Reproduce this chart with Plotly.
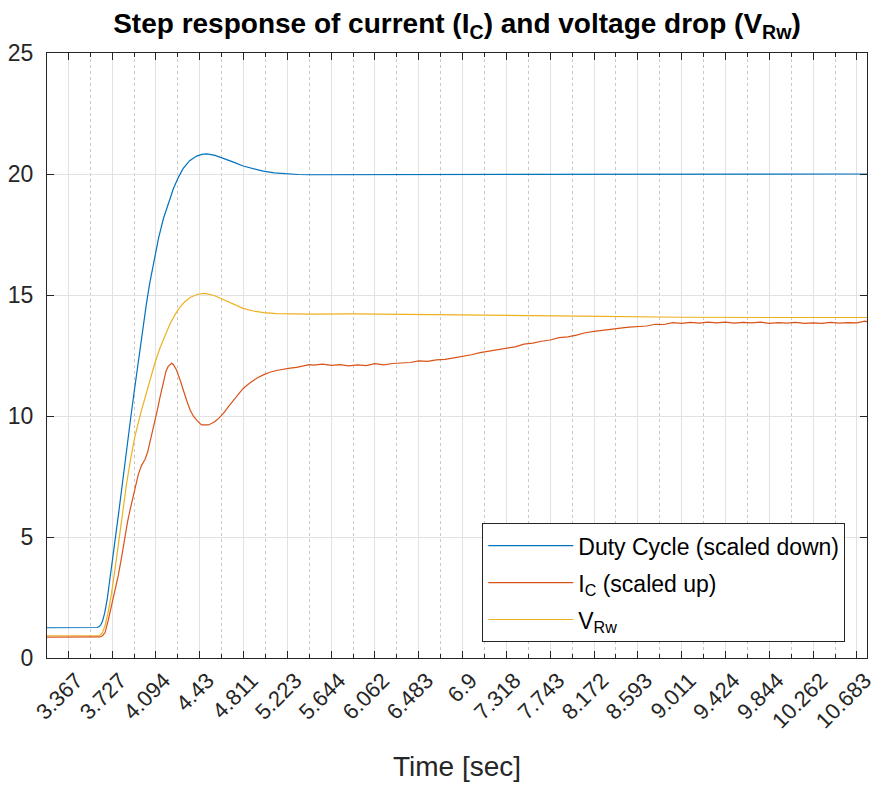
import plotly.graph_objects as go

# ---------------- data ----------------
# x axis positions are in "tick index" units; tick k carries the time label below
tick_pos = list(range(19))
tick_labels = ["3.367", "3.727", "4.094", "4.43", "4.811", "5.223", "5.644", "6.062",
               "6.483", "6.9", "7.318", "7.743", "8.172", "8.593", "9.011", "9.424",
               "9.844", "10.262", "10.683"]
minor_pos = [k + 0.5 for k in range(-1, 19)]
y_ticks = [0, 5, 10, 15, 20, 25]

duty_x = [-0.49, 0.55, 0.62, 0.66, 0.70, 0.74, 0.78, 0.83, 0.89, 0.95, 1.01, 1.07, 1.15, 1.22,
          1.30, 1.37, 1.43, 1.50, 1.57, 1.64, 1.71, 1.78, 1.86, 1.94, 2.06, 2.17, 2.29, 2.40,
          2.51, 2.62, 2.77, 2.93, 3.05, 3.16, 3.35, 3.54, 3.77, 3.99, 4.22, 4.45, 4.70, 4.98,
          5.25, 5.52, 6.00, 6.39, 6.50, 8.00, 10.0, 12.0, 14.0, 16.0, 18.23]
duty_y = [1.25, 1.25, 1.25, 1.26, 1.29, 1.37, 1.52, 1.85, 2.45, 3.20, 4.00, 4.90, 6.00, 7.05,
          8.15, 9.15, 10.00, 10.95, 11.90, 12.85, 13.75, 14.60, 15.50, 16.30, 17.35, 18.15, 18.85,
          19.40, 19.85, 20.22, 20.55, 20.74, 20.81, 20.83, 20.77, 20.65, 20.49, 20.33, 20.21, 20.12,
          20.05, 20.01, 19.98, 19.97, 19.97, 19.98, 20.00, 20.00, 20.00, 20.00, 20.00, 20.00, 20.00]

ic_x = [-0.49, 0.62, 0.72, 0.78, 0.84, 0.91, 0.99, 1.07, 1.14, 1.22, 1.29, 1.35, 1.41, 1.47,
        1.52, 1.56, 1.60, 1.67, 1.75, 1.81, 1.86, 1.92, 1.98, 2.04, 2.09, 2.17, 2.23, 2.28,
        2.33, 2.36, 2.40, 2.47, 2.55, 2.62, 2.70, 2.78, 2.86, 2.93, 3.00, 3.04, 3.20, 3.27,
        3.35, 3.45, 3.54, 3.66, 3.77, 3.88, 3.99, 4.15, 4.30, 4.45, 4.60, 4.75, 4.91, 5.06,
        5.21, 5.37, 5.50,
        5.6, 5.8, 6.0, 6.2, 6.4, 6.6, 6.8, 7.0, 7.2, 7.4, 7.6, 7.8, 8.0, 8.2, 8.4, 8.6, 8.8,
        9.0, 9.2, 9.4, 9.6, 9.8, 10.0, 10.2, 10.4, 10.6, 10.8, 11.0, 11.2, 11.4, 11.6, 11.8,
        12.0, 12.2, 12.4, 12.6, 12.8, 13.0, 13.2, 13.4, 13.6, 13.8, 14.0, 14.2, 14.4, 14.6,
        14.8, 15.0, 15.2, 15.4, 15.6, 15.8, 16.0, 16.2, 16.4, 16.6, 16.8, 17.0, 17.2, 17.4,
        17.6, 17.8, 18.0, 18.18, 18.23]
ic_y = [0.86, 0.86, 0.87, 0.92, 1.05, 1.55, 2.20, 2.80, 3.40, 4.20, 5.00, 5.60, 6.12, 6.55,
        6.94, 7.25, 7.60, 7.95, 8.20, 8.50, 8.87, 9.30, 9.83, 10.30, 10.75, 11.45, 11.85, 12.05,
        12.16, 12.18, 12.12, 11.90, 11.50, 11.07, 10.65, 10.25, 9.98, 9.83, 9.68, 9.63, 9.63, 9.69,
        9.77, 9.93, 10.11, 10.40, 10.66, 10.92, 11.14, 11.37, 11.56, 11.70, 11.81, 11.88, 11.94, 11.98,
        12.01, 12.06, 12.12,
        12.10, 12.14, 12.09, 12.12, 12.07, 12.11, 12.08, 12.16, 12.11, 12.17, 12.19, 12.21, 12.28,
        12.26, 12.32, 12.34, 12.40, 12.46, 12.53, 12.62, 12.68, 12.73, 12.81, 12.86, 12.97, 13.01,
        13.09, 13.14, 13.24, 13.27, 13.34, 13.44, 13.50, 13.55, 13.61, 13.63, 13.67, 13.70, 13.72,
        13.79, 13.78, 13.86, 13.83, 13.87, 13.84, 13.88, 13.85, 13.88, 13.84, 13.87, 13.85, 13.88,
        13.83, 13.86, 13.84, 13.87, 13.83, 13.85, 13.83, 13.87, 13.84, 13.86, 13.85, 13.92, 13.90]

vrw_x = [-0.49, 0.62, 0.72, 0.78, 0.84, 0.91, 0.99, 1.08, 1.16, 1.25, 1.33, 1.43, 1.52, 1.65,
         1.77, 1.86, 1.97, 2.09, 2.20, 2.32, 2.44, 2.55, 2.66, 2.78, 2.95, 3.12, 3.33, 3.54, 3.77,
         3.99, 4.22, 4.46, 4.75, 5.06, 5.52, 6.50, 7.50, 8.50, 9.50, 10.50, 11.70, 12.80, 14.00,
         16.00, 18.23]
vrw_y = [0.92, 0.92, 0.93, 1.05, 1.35, 1.90, 2.70, 3.85, 5.00, 6.20, 7.20, 8.30, 9.15, 10.10,
         10.90, 11.50, 12.15, 12.80, 13.30, 13.80, 14.20, 14.50, 14.72, 14.90, 15.03, 15.07, 14.98,
         14.82, 14.63, 14.45, 14.34, 14.27, 14.23, 14.21, 14.21, 14.22, 14.21, 14.19, 14.17, 14.15,
         14.13, 14.10, 14.08, 14.07, 14.07]

series_names = ["Duty Cycle (scaled down)", "I<sub>C</sub> (scaled up)", "V<sub>Rw</sub>"]
series_colors = ["#0072BD", "#D95319", "#EDB120"]

# ---------------- figure ----------------
FONT = "Liberation Sans, Arial, Helvetica, sans-serif"
AX = "#262626"

fig = go.Figure()
for i, (xs, ys) in enumerate([(duty_x, duty_y), (ic_x, ic_y), (vrw_x, vrw_y)]):
    fig.add_trace(go.Scatter(x=xs, y=ys, mode="lines", name=series_names[i],
                             legendgroup=f"g{i}",
                             line=dict(color=series_colors[i], width=1.2)))

fig.update_layout(
    width=877, height=785,
    margin=dict(l=47, r=10, t=53, b=127, autoexpand=False),
    paper_bgcolor="white", plot_bgcolor="white",
    font=dict(family=FONT, color=AX),
    title=dict(text="<b>Step response of current (I<sub>C</sub>) and voltage drop (V<sub>Rw</sub>)</b>",
               x=0.5, xref="paper", xanchor="center",
               y=1 - 23 / 785, yref="container", yanchor="middle",
               font=dict(size=28, color="black", family=FONT)),
    legend=dict(x=0.9735, xanchor="right", y=0.026, yanchor="bottom",
                bgcolor="white", bordercolor=AX, borderwidth=1,
                font=dict(size=23, color="black", family=FONT),
                itemwidth=85, tracegroupgap=4),
    showlegend=True,
)

fig.update_xaxes(
    range=[-0.486, 18.23], automargin=False,
    tickmode="array", tickvals=tick_pos, ticktext=tick_labels, tickangle=-45,
    ticks="inside", ticklen=7, tickcolor=AX, tickwidth=1,
    showline=True, linecolor=AX, linewidth=1, mirror="allticks",
    showgrid=True, gridcolor="#e2e2e2", gridwidth=1, zeroline=False,
    tickfont=dict(size=22, color=AX, family=FONT), ticklabelstandoff=0, ticklabelshift=8,
    ticklabeloverflow="allow",
    minor=dict(tickmode="array", tickvals=minor_pos, ticks="inside", ticklen=4,
               tickcolor=AX, showgrid=True, gridcolor="#c8c8c8", griddash="dot", gridwidth=1),
    title=dict(text="Time [sec]", font=dict(size=28, color=AX, family=FONT), standoff=24),
)
fig.update_yaxes(
    range=[0, 25], tickmode="array", tickvals=y_ticks, automargin=False,
    ticks="inside", ticklen=7, tickcolor=AX, tickwidth=1,
    showline=True, linecolor=AX, linewidth=1, mirror="allticks",
    showgrid=True, gridcolor="#e2e2e2", gridwidth=1, zeroline=False,
    tickfont=dict(size=23, color=AX, family=FONT), ticklabelstandoff=8,
)

fig.write_html("out.html")
